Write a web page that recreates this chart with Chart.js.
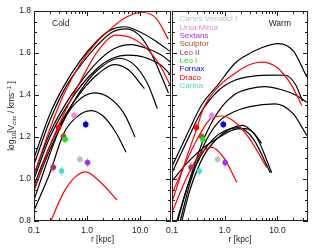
<!DOCTYPE html>
<html>
<head>
<meta charset="utf-8">
<script src="https://cdn.jsdelivr.net/npm/chart.js@4.4.0/dist/chart.umd.min.js"></script>
<style>
  html, body { margin: 0; padding: 0; background: #fff; }
  #wrap { position: relative; width: 315px; height: 252px; overflow: hidden; }
  #cold { position: absolute; left: 0; top: 0; }
  #warm { position: absolute; left: 150px; top: 0; }
</style>
</head>
<body>
<div id="wrap">
  <canvas id="cold" width="175" height="252" style="width:175px;height:252px"></canvas>
  <canvas id="warm" width="165" height="252" style="width:165px;height:252px"></canvas>
</div>
<script>
// curves: [r (kpc), log10 Vcirc]
const coldBlack = [
  [[0.1,1.10],[0.2,1.31],[0.36,1.44],[0.75,1.565],[1.5,1.655],[2.8,1.71],[5,1.725],[10,1.70],[20,1.655],[38,1.605]],
  [[0.1,1.07],[0.2,1.28],[0.4,1.44],[0.8,1.55],[1.6,1.64],[3,1.70],[5.5,1.715],[10,1.68],[16,1.60],[25,1.49],[34,1.41]],
  [[0.1,1.02],[0.2,1.22],[0.4,1.36],[0.8,1.47],[1.6,1.56],[3.2,1.62],[6.7,1.64],[14,1.62],[25,1.59],[38,1.555]],
  [[0.1,1.00],[0.2,1.20],[0.4,1.34],[0.8,1.45],[1.6,1.53],[3,1.575],[5.8,1.59],[12,1.58],[25,1.54],[38,1.494]],
  [[0.1,0.97],[0.2,1.16],[0.4,1.31],[0.8,1.42],[1.6,1.50],[3.2,1.545],[6,1.52],[12,1.43]],
  [[0.1,0.95],[0.2,1.14],[0.4,1.30],[0.8,1.43],[1.6,1.52],[4,1.575],[8,1.54],[14,1.45],[21,1.335]],
  [[0.1,0.90],[0.2,1.12],[0.33,1.26],[0.6,1.36],[1.35,1.41],[2.5,1.39],[5,1.31],[8,1.20]],
  [[0.1,0.85],[0.2,1.03],[0.36,1.215],[0.6,1.29],[1.17,1.326],[2,1.30],[3.5,1.22],[5.4,1.127]]
];
const coldRed = [
  [[0.1,1.02],[0.2,1.24],[0.36,1.40],[0.75,1.55],[1.5,1.65],[2.8,1.715],[5,1.765],[10.4,1.794],[20,1.765],[33.7,1.666]],
  [[0.1,0.94],[0.2,1.16],[0.4,1.33],[0.8,1.48],[1.6,1.61],[3.5,1.685],[7,1.67],[14,1.615],[25,1.53],[38,1.438]],
  [[0.2,0.79],[0.36,0.935],[0.6,1.01],[0.935,1.034],[1.81,0.983],[3.65,0.90]]
];
const warmBlack = [
  [[0.1,1.06],[0.2,1.22],[0.36,1.35],[0.75,1.45],[1.55,1.55],[2.4,1.585],[5,1.625],[10.4,1.645],[20,1.61],[36,1.486]],
  [[0.1,1.03],[0.2,1.19],[0.36,1.32],[0.75,1.42],[1.55,1.47],[3.5,1.49],[8,1.495],[14,1.494],[22,1.45],[30,1.37]],
  [[0.12,0.79],[0.2,0.97],[0.4,1.19],[0.75,1.32],[1.5,1.40],[3,1.43],[5.8,1.44],[12,1.425],[22,1.40],[36,1.366]],
  [[0.14,0.79],[0.22,0.98],[0.4,1.16],[0.75,1.27],[1.5,1.32],[3,1.345],[9,1.358],[20,1.31],[36,1.207]],
  [[0.125,0.79],[0.2,0.97],[0.35,1.11],[0.6,1.19],[1.0,1.23],[1.8,1.245],[3.5,1.19],[7.3,1.03]],
  [[0.15,0.79],[0.22,0.95],[0.4,1.11],[0.7,1.19],[1.2,1.235],[2.2,1.255],[3.5,1.22],[5,1.17]],
  [[0.1,0.99],[0.2,1.08],[0.4,1.15],[0.8,1.20],[1.5,1.235],[2.5,1.24],[4,1.20],[7.8,1.03]]
];
const warmRed = [
  [[0.1,0.89],[0.2,1.12],[0.29,1.235],[0.4,1.34],[0.75,1.438],[1.5,1.50],[3,1.545],[5,1.557],[10,1.53],[18.6,1.446],[29,1.35]],
  [[0.1,0.93],[0.2,1.10],[0.35,1.22],[0.56,1.29],[0.87,1.30],[1.5,1.275],[3,1.19],[6.25,1.055]],
  [[0.1,0.84],[0.19,1.007],[0.34,1.119],[0.57,1.151],[0.95,1.103],[1.71,0.983]]
];

// dwarf spheroidals
const galaxyNames = ['Canes Venatici I','Ursa Minor','Sextans','Sculptor','Leo II','Leo I','Fornax','Draco','Carina'];
const galaxyR     = [0.73, 0.57, 1.02, 0.36, 0.23, 0.385, 0.94, 0.29, 0.33];
const galaxyLogV  = [1.094, 1.302, 1.078, 1.203, 1.056, 1.189, 1.26, 1.245, 1.038];
const galaxyErr   = [0.02, 0.02, 0.022, 0.018, 0.025, 0.02, 0.018, 0.02, 0.025];
const galaxyColors = ['#c0c0c0','#ee82ee','#9b30ff','#a0522d','#b03060','#22dd22','#0000ff','#ff0000','#40e0d0'];

const xMajor = [0.1, 1, 10];
const xMinor = [0.2,0.3,0.4,0.5,0.6,0.7,0.8,0.9,2,3,4,5,6,7,8,9,20,30];
const yMajor = [0.8, 1.0, 1.2, 1.4, 1.6, 1.8];
const yMinor = [0.85,0.9,0.95,1.05,1.1,1.15,1.25,1.3,1.35,1.45,1.5,1.55,1.65,1.7,1.75];

const FONT = '"Liberation Sans", Arial, Helvetica, sans-serif';
const INK = '#222';

function curveSet(list, color) {
  return list.map(c => ({
    data: c.map(p => ({x: p[0], y: p[1]})),
    borderColor: color, borderWidth: 1.2, pointRadius: 0,
    cubicInterpolationMode: 'monotone', fill: false
  }));
}

function galaxySet() {
  return {
    data: galaxyR.map((r, i) => ({x: r, y: galaxyLogV[i]})),
    showLine: false, pointRadius: 2.8, pointBorderWidth: 0,
    pointBackgroundColor: galaxyColors, borderColor: 'transparent', errs: galaxyErr
  };
}

// frame, inward ticks, error bars, texts
const decor = {
  id: 'decor',
  beforeDatasetDraw(chart, args) {
    const ds = chart.data.datasets[args.index];
    if (!ds.errs) return;
    const {ctx, scales: {x, y}} = chart;
    ctx.save();
    ctx.lineWidth = 1.2;
    ds.data.forEach((p, i) => {
      const px = x.getPixelForValue(p.x);
      ctx.strokeStyle = galaxyColors[i];
      ctx.globalAlpha = 0.55;
      ctx.beginPath();
      ctx.moveTo(px, y.getPixelForValue(p.y - ds.errs[i]));
      ctx.lineTo(px, y.getPixelForValue(p.y + ds.errs[i]));
      ctx.stroke();
    });
    ctx.restore();
  },
  afterDraw(chart, args, o) {
    const {ctx, chartArea: a, scales: {x, y}} = chart;
    ctx.save();
    ctx.strokeStyle = INK;
    ctx.lineWidth = 1;
    ctx.strokeRect(a.left + 0.5, a.top + 0.5, a.right - a.left - 1, a.bottom - a.top - 1);
    ctx.beginPath();
    const tx = (v, len) => {
      const p = Math.round(x.getPixelForValue(v)) + 0.5;
      ctx.moveTo(p, a.bottom); ctx.lineTo(p, a.bottom - len);
      ctx.moveTo(p, a.top); ctx.lineTo(p, a.top + len);
    };
    const ty = (v, len) => {
      const p = Math.round(y.getPixelForValue(v)) + 0.5;
      ctx.moveTo(a.left, p); ctx.lineTo(a.left + len, p);
      ctx.moveTo(a.right, p); ctx.lineTo(a.right - len, p);
    };
    xMajor.forEach(v => tx(v, 5));
    xMinor.forEach(v => tx(v, 3));
    yMajor.forEach(v => ty(v, 5));
    yMinor.forEach(v => ty(v, 3));
    ctx.stroke();

    ctx.fillStyle = INK;
    ctx.textBaseline = 'middle';
    ctx.font = '8.5px ' + FONT;
    ctx.textAlign = 'center';
    ctx.fillText('r [kpc]', (a.left + a.right) / 2, 240);
    if (o.tag === 'Cold') {
      ctx.textAlign = 'left';
      ctx.fillText('Cold', a.left + 18, a.top + 12.5);
      // y title with sub/superscripts
      const parts = [['log', 8.5, 0], ['10', 6, 2], ['[V', 8.5, 0], ['circ', 6, 2],
                     [' / kms', 8.5, 0], ['\u22121', 6, -3], [' ]', 8.5, 0]];
      let total = 0;
      parts.forEach(p => { ctx.font = p[1] + 'px ' + FONT; p.w = ctx.measureText(p[0]).width; total += p.w; });
      ctx.translate(12, (a.top + a.bottom) / 2);
      ctx.rotate(-Math.PI / 2);
      let cx = -total / 2;
      ctx.textAlign = 'left';
      parts.forEach(p => { ctx.font = p[1] + 'px ' + FONT; ctx.fillText(p[0], cx, p[2]); cx += p.w; });
    } else {
      ctx.textAlign = 'right';
      ctx.fillText('Warm', a.right - 17, a.top + 12.5);
      ctx.textAlign = 'left';
      ctx.font = '8px ' + FONT;
      galaxyNames.forEach((n, i) => {
        ctx.fillStyle = galaxyColors[i];
        ctx.fillText(n, a.left + 7.5, a.top + 8 + i * 8.33);
      });
    }
    ctx.restore();
  }
};

function makeChart(id, tag, black, red, yWidth, padRight) {
  const datasets = [galaxySet()].concat(curveSet(red, '#ff0000'), curveSet(black, '#000000'));
  return new Chart(document.getElementById(id), {
    type: 'line',
    data: { datasets },
    options: {
      responsive: false, animation: false,
      layout: { padding: { top: 11, right: padRight, left: 0, bottom: 0 } },
      plugins: { legend: { display: false }, tooltip: { enabled: false }, decor: { tag } },
      scales: {
        x: {
          type: 'logarithmic', min: 0.1, max: 38,
          grid: { display: false, drawTicks: false }, border: { display: false },
          afterBuildTicks: s => { s.ticks = xMajor.map(v => ({ value: v })); },
          afterFit: s => { s.height = 31; },
          ticks: { callback: v => v.toFixed(1), padding: 5, color: INK, font: { size: 8.5, family: FONT }, maxRotation: 0, autoSkip: false }
        },
        y: {
          min: 0.8, max: 1.8,
          grid: { display: false, drawTicks: false }, border: { display: false },
          afterBuildTicks: s => { s.ticks = yMajor.map(v => ({ value: v })); },
          afterFit: s => { s.width = yWidth; },
          ticks: { display: tag === 'Cold', callback: v => v.toFixed(1), padding: 3, color: INK, font: { size: 8.5, family: FONT } }
        }
      }
    },
    plugins: [decor]
  });
}

makeChart('cold', 'Cold', coldBlack, coldRed, 34, 3);
makeChart('warm', 'Warm', warmBlack, warmRed, 22, 7);
</script>
</body>
</html>
